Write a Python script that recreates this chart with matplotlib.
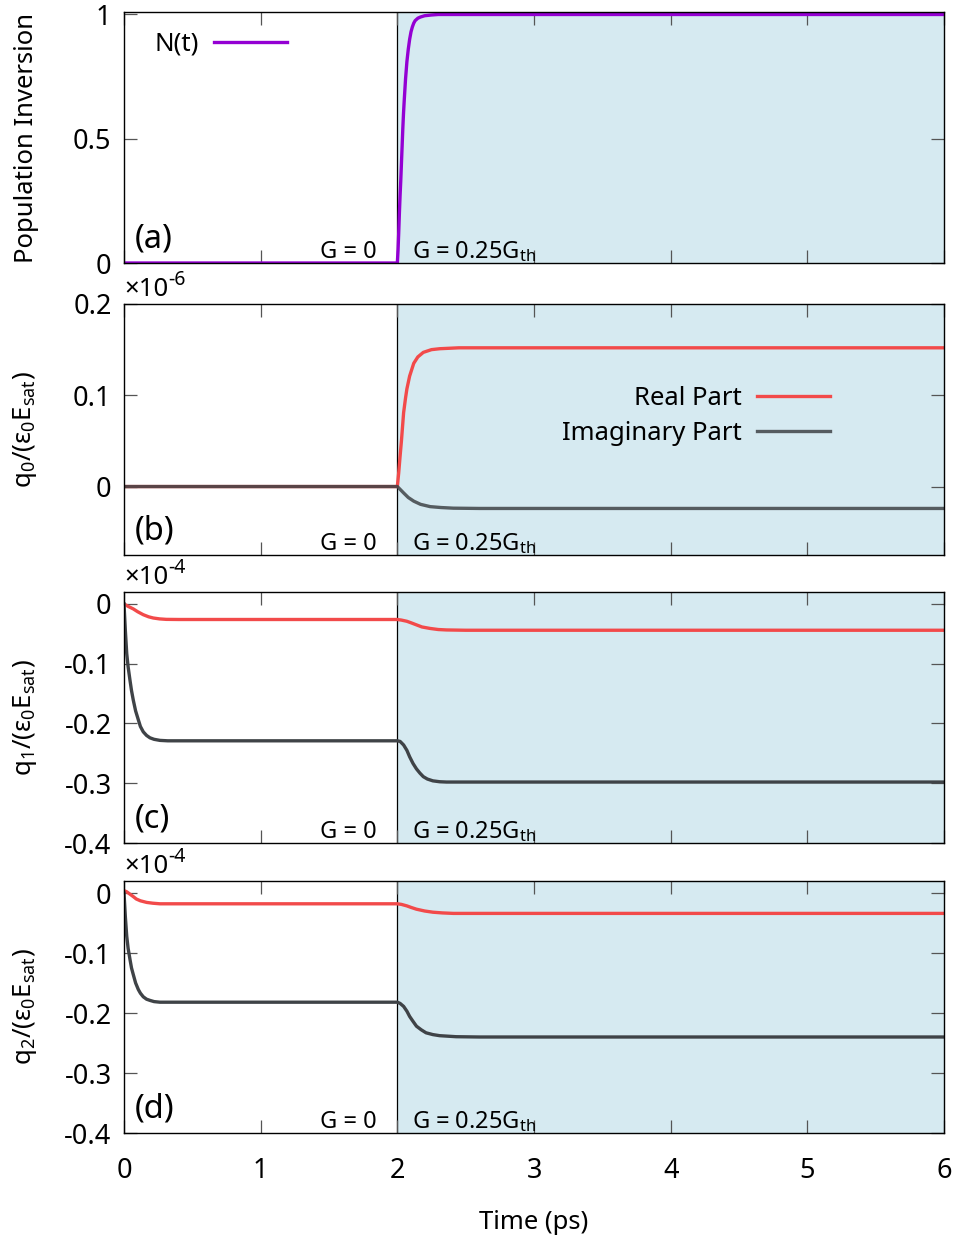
import numpy as np
import matplotlib.pyplot as plt
from matplotlib.transforms import offset_copy

plt.rcParams["font.family"] = ["Noto Sans", "DejaVu Sans"]
plt.rcParams["mathtext.fontset"] = "custom"
plt.rcParams["mathtext.rm"] = "Noto Sans"
plt.rcParams["mathtext.it"] = "Noto Sans"
plt.rcParams["mathtext.default"] = "regular"
plt.rcParams["axes.unicode_minus"] = False

# ---- data (time in ps) ----
T_SWITCH = 2.0
T_END = 6.0

# (a) population inversion
t_n = [0.0, 2.0, 2.005, 2.01, 2.015, 2.02, 2.025, 2.03, 2.035, 2.04, 2.045, 2.05,
       2.06, 2.07, 2.08, 2.09, 2.10, 2.11, 2.12, 2.13, 2.15, 2.17, 2.2, 2.25, 2.3, 6.0]
n_t = [0.0, 0.0, 0.05, 0.12, 0.20, 0.27, 0.33, 0.40, 0.47, 0.54, 0.60, 0.65,
       0.74, 0.81, 0.86, 0.90, 0.93, 0.95, 0.965, 0.975, 0.985, 0.99, 0.995, 0.998, 1.0, 1.0]

# (b) q0, units of 1e-6
t_q0r = [0.0, 2.0, 2.01, 2.02, 2.03, 2.046, 2.06, 2.07, 2.09, 2.12, 2.15, 2.19,
         2.25, 2.31, 2.45, 6.0]
q0_re = [0.0, 0.0, 0.015, 0.033, 0.050, 0.081, 0.097, 0.107, 0.121, 0.135, 0.142, 0.147,
         0.150, 0.151, 0.152, 0.152]
t_q0i = [0.0, 2.0, 2.02, 2.046, 2.08, 2.12, 2.17, 2.24, 2.32, 2.41, 2.6, 6.0]
q0_im = [0.0, 0.0, -0.003, -0.007, -0.012, -0.016, -0.0195, -0.022, -0.023, -0.0237,
         -0.024, -0.024]

# (c) q1, units of 1e-4
t_q1r = [0.0, 0.03, 0.068, 0.1, 0.141, 0.18, 0.214, 0.26, 0.31, 0.4,
         2.0, 2.03, 2.07, 2.1, 2.14, 2.18, 2.24, 2.3, 2.36, 2.5, 6.0]
q1_re = [0.0, -0.004, -0.0083, -0.013, -0.018, -0.0215, -0.0235, -0.025, -0.0258, -0.026,
         -0.026, -0.027, -0.029, -0.0315, -0.035, -0.0385, -0.041, -0.0428, -0.0435, -0.044,
         -0.044]
t_q1i = [0.0, 0.01, 0.02, 0.03, 0.044, 0.055, 0.068, 0.085, 0.105, 0.12, 0.141, 0.165,
         0.19, 0.22, 0.263, 0.32,
         2.0, 2.02, 2.046, 2.07, 2.09, 2.115, 2.14, 2.165, 2.19, 2.22, 2.26, 2.31, 2.36, 6.0]
q1_im = [0.0, -0.045, -0.083, -0.105, -0.128, -0.145, -0.161, -0.179, -0.194, -0.205,
         -0.214, -0.220, -0.224, -0.2265, -0.2283, -0.229,
         -0.229, -0.230, -0.236, -0.245, -0.2557, -0.267, -0.276, -0.283, -0.289, -0.293,
         -0.296, -0.2975, -0.298, -0.298]

# (d) q2, units of 1e-4
t_q2r = [0.0, 0.02, 0.044, 0.068, 0.09, 0.12, 0.166, 0.21, 0.263,
         2.0, 2.03, 2.07, 2.1, 2.14, 2.2, 2.26, 2.33, 2.41, 6.0]
q2_re = [0.004, 0.002, -0.002, -0.006, -0.010, -0.013, -0.0157, -0.017, -0.018,
         -0.018, -0.019, -0.0215, -0.024, -0.027, -0.030, -0.032, -0.0332, -0.034, -0.034]
t_q2i = [0.0, 0.01, 0.02, 0.03, 0.044, 0.055, 0.068, 0.085, 0.105, 0.12, 0.141, 0.165,
         0.19, 0.22, 0.263,
         2.0, 2.02, 2.046, 2.07, 2.09, 2.115, 2.14, 2.175, 2.21, 2.26, 2.31, 2.43, 2.6, 6.0]
q2_im = [0.0, -0.040, -0.072, -0.092, -0.111, -0.125, -0.136, -0.150, -0.161, -0.167,
         -0.173, -0.177, -0.179, -0.181, -0.182,
         -0.182, -0.184, -0.189, -0.197, -0.2057, -0.214, -0.222, -0.228, -0.233, -0.236,
         -0.2378, -0.2395, -0.240, -0.240]

PURPLE = "#9400d3"
RED = "#f24a4a"
DARK = "#3f4347"
SHADE = "#d6eaf1"

TICK_FS = 19.5
LABEL_FS = 18.5

W, H = 955, 1241
fig = plt.figure(figsize=(W / 100, H / 100), dpi=100)


def make_axes(top, bottom):
    left, right = 124, 944
    return fig.add_axes([left / W, 1 - bottom / H, (right - left) / W, (bottom - top) / H])


def style(ax, ylim, yticks, show_x):
    ax.set_xlim(0, T_END)
    ax.set_ylim(*ylim)
    ax.set_xticks(range(0, 7))
    ax.set_yticks(yticks)
    ax.set_yticklabels([f"{v:g}" for v in yticks])
    ax.axvspan(T_SWITCH, T_END, color=SHADE, lw=0, zorder=0)
    ax.axvline(T_SWITCH, color="black", lw=0.9, zorder=1)
    ax.tick_params(direction="in", top=True, right=True, length=9.5, width=0.9,
                   color="#555555", labelsize=TICK_FS)
    ax.tick_params(axis="y", pad=9)
    ax.tick_params(axis="x", pad=17, labelbottom=show_x)
    for sp in ax.spines.values():
        sp.set_linewidth(1.0)
        sp.set_zorder(5)
    ax.text(1.851, 0.02, "G = 0", transform=ax.get_xaxis_transform(),
            ha="right", va="baseline", fontsize=17)
    ax.text(2.107, 0.02, "G = 0.25G$_{th}$", transform=ax.get_xaxis_transform(),
            ha="left", va="baseline", fontsize=17)
    ax.yaxis.set_label_coords(-0.104, 0.5)


def tag(ax, s):
    ax.text(0.013, 0.06, s, transform=ax.transAxes, ha="left", va="baseline", fontsize=23.5)


def scale_note(ax, power):
    base = ax.text(0.0, 1.03, "×10", transform=ax.transAxes, ha="left", va="baseline",
                   fontsize=18.5)
    fig.canvas.draw()
    w = base.get_window_extent().width
    sup = offset_copy(ax.transAxes, fig=fig, x=w * 72 / fig.dpi, y=8, units="points")
    ax.text(0.0, 1.03, power, transform=sup, ha="left", va="baseline", fontsize=14)


def legend(ax, anchor, **kw):
    ax.legend(loc="center right", bbox_to_anchor=anchor, frameon=False, markerfirst=False,
              fontsize=LABEL_FS, handlelength=2.85, handletextpad=0.6, borderpad=0,
              borderaxespad=0, **kw)


# (a)
ax_a = make_axes(12, 263)
style(ax_a, (0, 1.01), [0, 0.5, 1], False)
ax_a.plot(t_n, n_t, color=PURPLE, lw=2.4, label="N(t)", zorder=3)
ax_a.set_ylabel("Population Inversion", fontsize=LABEL_FS)
legend(ax_a, (0.199, 0.872))
tag(ax_a, "(a)")

# (b)
ax_b = make_axes(304, 555)
style(ax_b, (-0.075, 0.2), [0, 0.1, 0.2], False)
ax_b.plot(t_q0r, q0_re, color=RED, lw=2.4, label="Real Part", zorder=3)
ax_b.plot(t_q0i, q0_im, color=DARK, lw=2.4, label="Imaginary Part", zorder=4, alpha=0.85)
ax_b.set_ylabel("q$_0$/(ε$_0$E$_{sat}$)", fontsize=LABEL_FS)
legend(ax_b, (0.861, 0.553), labelspacing=0.38)
tag(ax_b, "(b)")

# (c)
ax_c = make_axes(592, 843)
style(ax_c, (-0.4, 0.02), [0, -0.1, -0.2, -0.3, -0.4], False)
ax_c.plot(t_q1r, q1_re, color=RED, lw=2.4, zorder=3)
ax_c.plot(t_q1i, q1_im, color=DARK, lw=2.4, zorder=4)
ax_c.set_ylabel("q$_1$/(ε$_0$E$_{sat}$)", fontsize=LABEL_FS)
tag(ax_c, "(c)")

# (d)
ax_d = make_axes(881, 1133)
style(ax_d, (-0.4, 0.02), [0, -0.1, -0.2, -0.3, -0.4], True)
ax_d.plot(t_q2r, q2_re, color=RED, lw=2.4, zorder=3)
ax_d.plot(t_q2i, q2_im, color=DARK, lw=2.4, zorder=4)
ax_d.set_ylabel("q$_2$/(ε$_0$E$_{sat}$)", fontsize=LABEL_FS)
ax_d.set_xlabel("Time (ps)", fontsize=LABEL_FS, labelpad=18)
tag(ax_d, "(d)")

scale_note(ax_b, "-6")
scale_note(ax_c, "-4")
scale_note(ax_d, "-4")

fig.savefig("out.png", dpi=100)
